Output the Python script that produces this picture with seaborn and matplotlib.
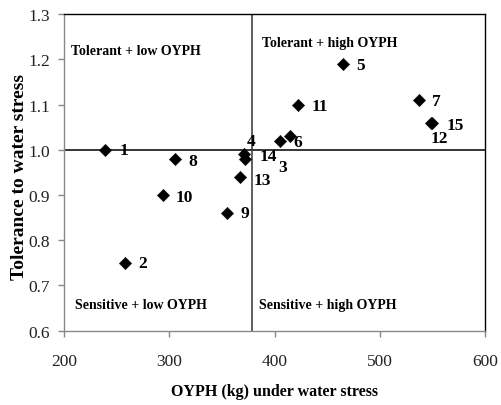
import pandas as pd
import matplotlib as mpl
import matplotlib.pyplot as plt
import seaborn as sns

# genotype number, OYPH under water stress (kg), tolerance index
genotypes = ["1", "2", "3", "4", "5", "6", "7", "8", "9", "10", "11", "12", "13", "14", "15"]
oyph = [239, 258, 405, 371, 465, 415, 537, 305, 355, 294, 422, 549, 367, 372, 550]
tolerance = [1.00, 0.75, 1.02, 0.99, 1.19, 1.03, 1.11, 0.98, 0.86, 0.90, 1.10, 1.06, 0.94, 0.98, 1.06]

# quadrant split
oyph_split = 379
tol_split = 1.0

quad_text = ["Tolerant + low OYPH", "Tolerant + high OYPH", "Sensitive + low OYPH", "Sensitive + high OYPH"]
quad_x = [207, 388, 210, 385]
quad_y = [1.219, 1.237, 0.659, 0.659]

# label offsets (pixels) so the numbers don't pile on each other
label_off = {"1": (14, 0), "2": (13, 0), "3": (-2, -26), "4": (3, 13), "5": (13, -1),
             "6": (3, -6), "7": (13, -1), "8": (14, -2), "9": (13, 0), "10": (13, -2),
             "11": (14, -1), "12": (-1, -15), "13": (14, -3), "14": (14, 3), "15": (14, -2)}

sns.set_style("white")
mpl.rcParams["font.family"] = ["Liberation Serif", "DejaVu Serif"]

data = pd.DataFrame({"genotype": genotypes, "OYPH": oyph, "tol": tolerance})

fig = plt.figure(figsize=(5.01, 4.06), dpi=100)
ax = fig.add_axes([0.128, 0.183, 0.840, 0.780])

ax.axhline(tol_split, color="black", lw=1.1, zorder=1)
ax.axvline(oyph_split, color="#333333", lw=1.1, zorder=1)

sns.scatterplot(data=data, x="OYPH", y="tol", marker="D", color="black", s=40,
                edgecolor="black", linewidth=0.3, ax=ax, zorder=3)

for g, x, y in zip(data["genotype"], data["OYPH"], data["tol"]):
    dx, dy = label_off[g]
    ax.annotate(g, (x, y), xytext=(dx, dy), textcoords="offset pixels",
                ha="left", va="center", fontsize=12.5, fontweight="bold", color="black")

for t, x, y in zip(quad_text, quad_x, quad_y):
    ax.text(x, y, t, ha="left", va="center", fontsize=10, fontweight="bold", color="black")

ax.set_xlim(200, 600)
ax.set_ylim(0.6, 1.3)
ax.set_xticks([200, 300, 400, 500, 600])
ax.set_yticks([0.6, 0.7, 0.8, 0.9, 1.0, 1.1, 1.2, 1.3])
ax.set_yticklabels(["0.6", "0.7", "0.8", "0.9", "1.0", "1.1", "1.2", "1.3"])

for side in ["left", "bottom"]:
    ax.spines[side].set_color("#888888")
    ax.spines[side].set_linewidth(1.0)
for side in ["top", "right"]:
    ax.spines[side].set_color("black")
    ax.spines[side].set_linewidth(1.0)

ax.tick_params(axis="both", which="major", direction="out", length=4, width=1,
               color="#888888", labelsize=12.5, labelcolor="#222222", left=True, bottom=True)
ax.tick_params(axis="x", pad=12)
ax.tick_params(axis="y", pad=6)

ax.set_xlabel("OYPH (kg) under water stress", fontsize=11.5, fontweight="bold", color="black", labelpad=10)
ax.set_ylabel("Tolerance to water stress", fontsize=14, fontweight="bold", color="black")
ax.yaxis.set_label_coords(-0.087, 0.49)

plt.savefig("out.png", dpi=100)
plt.close()
